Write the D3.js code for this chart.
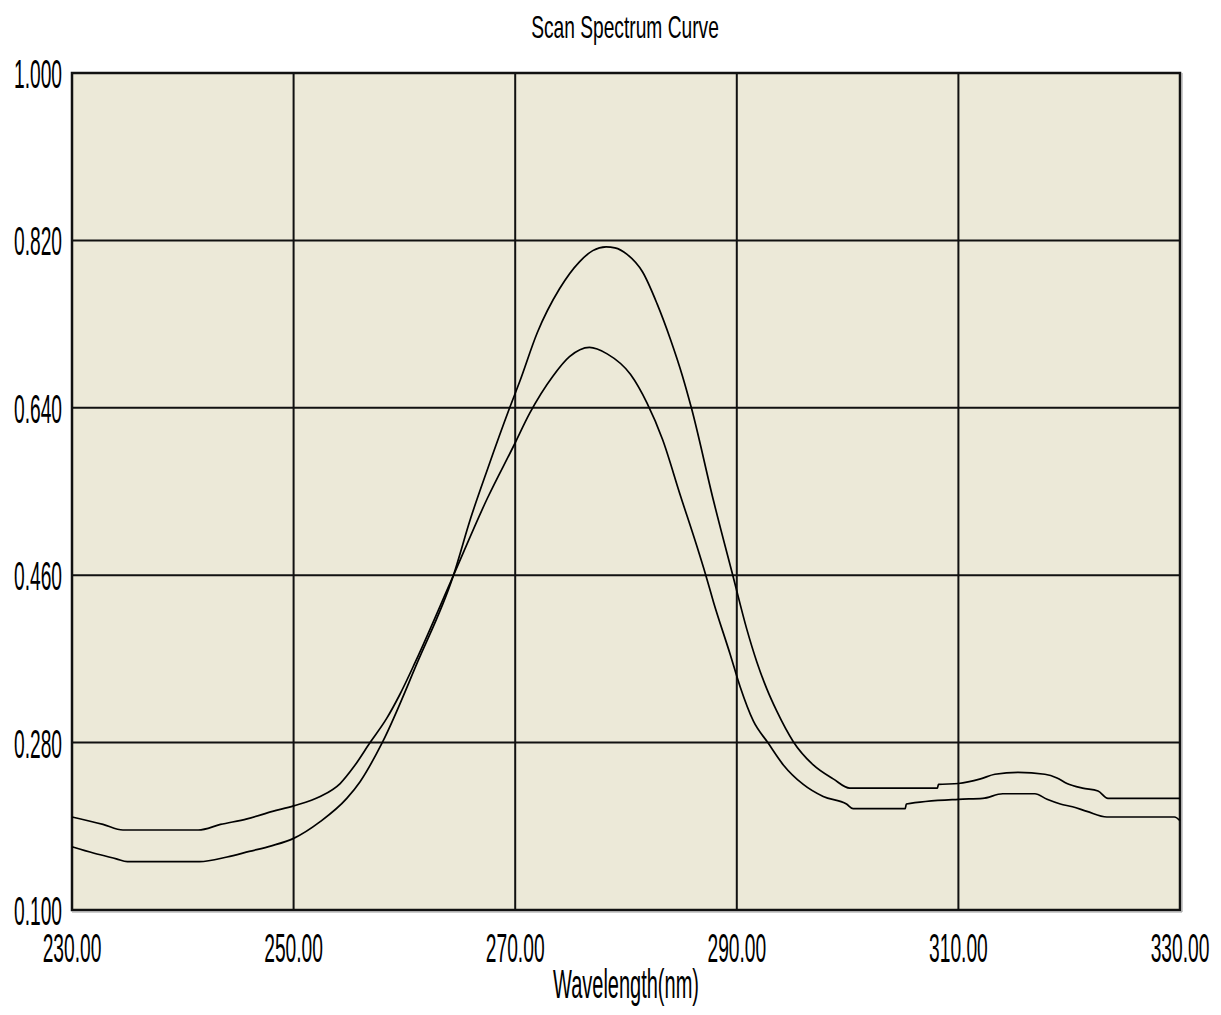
<!DOCTYPE html>
<html>
<head>
<meta charset="utf-8">
<script src="https://cdn.jsdelivr.net/npm/d3@7"></script>
<style>
  body { margin: 0; background: #fff; }
  text { font-family: "Liberation Sans", Arial, sans-serif; fill: #000; }
</style>
</head>
<body>
<svg id="chart" width="1221" height="1015"></svg>
<script>
// tick values
var xTicks = [230, 250, 270, 290, 310, 330];
var yTicks = [0.100, 0.280, 0.460, 0.640, 0.820, 1.000];

// scan 1 (taller peak) - wavelength / absorbance
var scan1Wl = [230, 232, 234, 235, 241.5, 244, 246, 248, 250, 252.4, 254.8, 256.0, 258.0, 261.2, 264.4, 266.0, 267.5, 269.5, 270.4, 272.0, 274.0, 275.8, 277.0, 278.2, 279.0, 280.1, 281.5, 282.8, 284.0, 285.1, 285.9, 287.9, 289.7, 290.9, 291.8, 292.7, 293.6, 295.1, 296.9, 298.7, 300.2, 308.1, 308.2, 310, 312, 313.3, 315.4, 317.8, 318.9, 319.8, 321.2, 322.6, 323.5, 330];
var scan1Abs = [0.168, 0.161, 0.155, 0.152, 0.152, 0.157, 0.163, 0.169, 0.177, 0.195, 0.220, 0.238, 0.280, 0.367, 0.459, 0.522, 0.574, 0.640, 0.668, 0.721, 0.768, 0.797, 0.809, 0.813, 0.812, 0.805, 0.786, 0.752, 0.714, 0.674, 0.640, 0.540, 0.457, 0.402, 0.367, 0.338, 0.314, 0.281, 0.256, 0.241, 0.231, 0.231, 0.235, 0.236, 0.241, 0.246, 0.248, 0.246, 0.242, 0.236, 0.231, 0.228, 0.220, 0.220];

// scan 2 (lower peak)
var scan2Wl = [230, 232.8, 234.6, 241.4, 243.4, 245.8, 248.1, 250, 252.4, 254.2, 255.5, 256.9, 258.4, 259.6, 261.0, 264.4, 267.5, 269.9, 271.3, 273.4, 274.9, 276.7, 278.3, 280.4, 281.9, 283.3, 284.9, 286.4, 287.2, 287.9, 289.4, 290.3, 291.5, 292.8, 294.2, 296.0, 297.8, 299.9, 300.5, 305.2, 305.3, 310, 312.2, 314.0, 316.9, 318.0, 319.2, 320.3, 321.6, 323.4, 329.5, 330];
var scan2Abs = [0.200, 0.192, 0.186, 0.186, 0.192, 0.198, 0.206, 0.212, 0.222, 0.236, 0.255, 0.280, 0.306, 0.332, 0.367, 0.459, 0.543, 0.600, 0.634, 0.674, 0.695, 0.705, 0.698, 0.676, 0.645, 0.606, 0.546, 0.491, 0.460, 0.431, 0.375, 0.340, 0.303, 0.280, 0.256, 0.235, 0.222, 0.214, 0.209, 0.209, 0.214, 0.219, 0.220, 0.225, 0.225, 0.219, 0.214, 0.211, 0.206, 0.200, 0.200, 0.196];

var svg = d3.select('#chart');
var pLeft = 72, pRight = 1180, pTop = 73, pBottom = 910;

var x = d3.scaleLinear().domain([230, 330]).range([pLeft, pRight]);
var y = d3.scaleLinear().domain([0.1, 1.0]).range([pBottom, pTop]);

// plot background
svg.append('rect')
    .attr('x', pLeft).attr('y', pTop)
    .attr('width', pRight - pLeft).attr('height', pBottom - pTop)
    .attr('fill', '#ECE9D8');

// grid
var grid = svg.append('g').attr('stroke', '#111').attr('stroke-width', 2);
grid.selectAll('line.gx')
    .data(xTicks.slice(1, -1))
  .enter().append('line')
    .attr('x1', d => x(d)).attr('x2', d => x(d))
    .attr('y1', pTop).attr('y2', pBottom);
grid.selectAll('line.gy')
    .data(yTicks.slice(1, -1))
  .enter().append('line')
    .attr('x1', pLeft).attr('x2', pRight)
    .attr('y1', d => y(d)).attr('y2', d => y(d));

// frame
svg.append('rect')
    .attr('x', pLeft).attr('y', pTop)
    .attr('width', pRight - pLeft).attr('height', pBottom - pTop)
    .attr('fill', 'none').attr('stroke', '#111').attr('stroke-width', 2.5);
svg.append('path')
    .attr('d', `M${pRight + 2},${pTop} V${pBottom + 2} H${pLeft}`)
    .attr('fill', 'none').attr('stroke', '#999').attr('stroke-width', 1);

// curves
var line = d3.line()
    .x(d => x(d[0]))
    .y(d => y(d[1]))
    .curve(d3.curveMonotoneX);

[[scan1Wl, scan1Abs], [scan2Wl, scan2Abs]].forEach(s => {
    svg.append('path')
        .datum(d3.zip(s[0], s[1]))
        .attr('d', line)
        .attr('fill', 'none')
        .attr('stroke', '#000')
        .attr('stroke-width', 1.7);
});

// squeezed text helper (the original font is tall and narrow)
function label(tx, ty, str, size, sx, anchor) {
    svg.append('text')
        .attr('transform', `translate(${tx},${ty}) scale(${sx},1)`)
        .attr('text-anchor', anchor)
        .attr('font-size', size)
        .text(str);
}

// y tick labels
yTicks.forEach(v => label(62, y(v) + 15, v.toFixed(3), 40, 0.48, 'end'));
// x tick labels
xTicks.forEach(v => label(x(v), 962, v.toFixed(2), 40, 0.48, 'middle'));

// title and axis name
label(625, 38, 'Scan Spectrum Curve', 32, 0.6, 'middle');
label(626, 998, 'Wavelength(nm)', 40, 0.5, 'middle');
</script>
</body>
</html>
